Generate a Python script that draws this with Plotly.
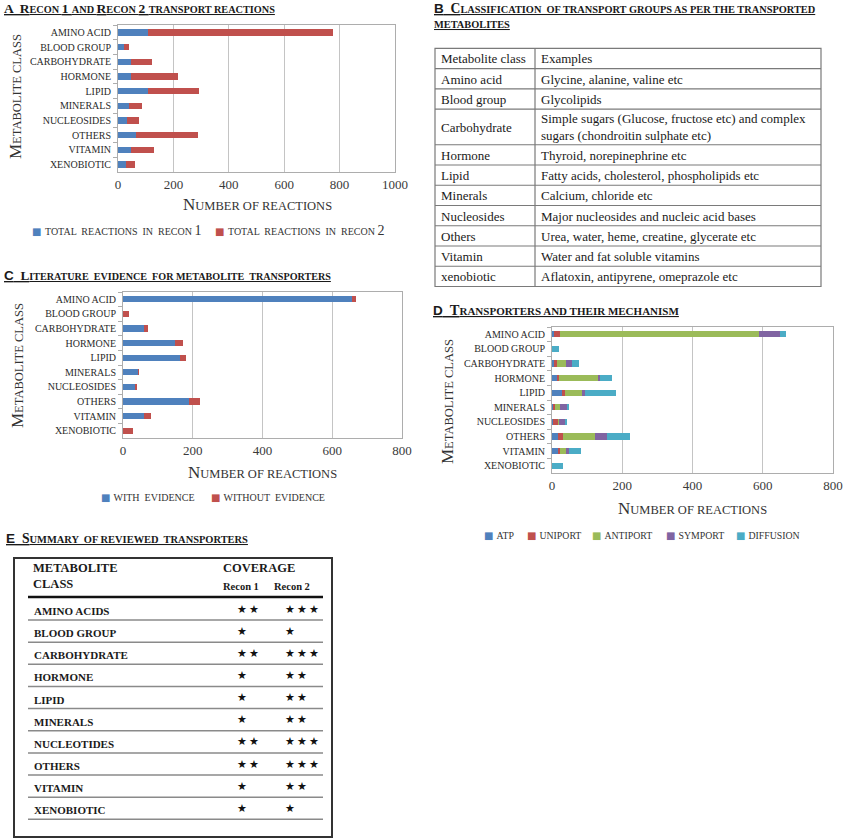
import plotly.graph_objects as go

W, H = 843, 839

# ---------------- data ----------------
categories = ["AMINO ACID", "BLOOD GROUP", "CARBOHYDRATE", "HORMONE", "LIPID",
              "MINERALS", "NUCLEOSIDES", "OTHERS", "VITAMIN", "XENOBIOTIC"]

# Panel A: Recon 1 and Recon 2 transport reactions (stacked segments)
recon1_reactions = [108, 20, 48, 46, 108, 40, 34, 64, 48, 30]
recon2_reactions = [667, 18, 76, 171, 185, 47, 43, 223, 82, 30]

# Panel C: literature evidence
with_evidence = [657, 0, 59, 150, 162, 43, 35, 188, 59, 0]
without_evidence = [10, 18, 14, 21, 19, 1, 6, 34, 21, 29]

# Panel D: transport mechanisms
atp = [5, 0, 5, 16, 31, 5, 2, 17, 16, 0]
uniport = [17, 0, 9, 5, 5, 4, 16, 13, 6, 0]
antiport = [568, 0, 25, 109, 48, 15, 1, 93, 18, 0]
symport = [58, 0, 18, 6, 9, 19, 17, 34, 9, 0]
diffusion = [18, 21, 19, 35, 90, 3, 7, 64, 33, 31]

x_ticks_a = [0, 200, 400, 600, 800, 1000]
x_ticks_cd = [0, 200, 400, 600, 800]

# Panel B: classification table
table_b_header = ["Metabolite class", "Examples"]
table_b_classes = ["Amino acid", "Blood group", "Carbohydrate", "Hormone", "Lipid",
                   "Minerals", "Nucleosides", "Others", "Vitamin", "xenobiotic"]
table_b_examples = ["Glycine, alanine, valine etc",
                    "Glycolipids",
                    "Simple sugars (Glucose, fructose etc) and complex<br>sugars (chondroitin sulphate etc)",
                    "Thyroid, norepinephrine etc",
                    "Fatty acids, cholesterol, phospholipids etc",
                    "Calcium, chloride etc",
                    "Major nucleosides and nucleic acid bases",
                    "Urea, water, heme, creatine, glycerate etc",
                    "Water and fat soluble vitamins",
                    "Aflatoxin, antipyrene, omeprazole etc"]

# Panel E: summary of reviewed transporters
summary_classes = ["AMINO ACIDS", "BLOOD GROUP", "CARBOHYDRATE", "HORMONE", "LIPID",
                   "MINERALS", "NUCLEOTIDES", "OTHERS", "VITAMIN", "XENOBIOTIC"]
coverage_recon1 = [2, 1, 2, 1, 1, 1, 2, 2, 1, 1]
coverage_recon2 = [3, 1, 3, 2, 2, 2, 3, 3, 2, 1]

BLUE, RED, GREEN, PURPLE, CYAN = "#4F81BD", "#C0504D", "#9BBB59", "#8064A2", "#4BACC6"
SERIF = "Liberation Serif"
SANS = "Liberation Sans"


def X(p):
    return p / W


def Y(p):
    return 1 - p / H


def sc(text, small):
    """small caps: lowercase letters become smaller capitals"""
    parts, buf, mode = [], "", None
    for ch in text:
        m = "s" if ch.islower() else ("b" if ch != " " else (mode or "b"))
        if mode is not None and m != mode and buf:
            parts.append((mode, buf))
            buf = ""
        mode = m
        buf += ch
    if buf:
        parts.append((mode, buf))
    out = ""
    for m, b in parts:
        if m == "s":
            out += f'<span style="font-size:{small:.2f}px">{b.upper()}</span>'
        else:
            out += b
    return out


fig = go.Figure()

# ---------- Panel A ----------
fig.add_trace(go.Bar(y=categories, x=recon1_reactions, orientation="h", name="Total reactions in Recon 1",
                     marker=dict(color=BLUE, line=dict(width=0)), xaxis="x", yaxis="y", showlegend=False))
fig.add_trace(go.Bar(y=categories, x=recon2_reactions, orientation="h", name="Total reactions in Recon 2",
                     marker=dict(color=RED, line=dict(width=0)), xaxis="x", yaxis="y", showlegend=False))

# ---------- Panel C ----------
fig.add_trace(go.Bar(y=categories, x=with_evidence, orientation="h", name="With evidence",
                     marker=dict(color=BLUE, line=dict(width=0)), xaxis="x2", yaxis="y2", showlegend=False))
fig.add_trace(go.Bar(y=categories, x=without_evidence, orientation="h", name="Without evidence",
                     marker=dict(color=RED, line=dict(width=0)), xaxis="x2", yaxis="y2", showlegend=False))

# ---------- Panel D ----------
for vals, nm, col in [(atp, "ATP", BLUE), (uniport, "Uniport", RED), (antiport, "Antiport", GREEN),
                      (symport, "Symport", PURPLE), (diffusion, "Diffusion", CYAN)]:
    fig.add_trace(go.Bar(y=categories, x=vals, orientation="h", name=nm,
                         marker=dict(color=col, line=dict(width=0)), xaxis="x3", yaxis="y3", showlegend=False))

GRID = "#C4C4C4"
LINE = "#ADADAD"


def xax(dom, anchor, rng, ticks):
    return dict(domain=dom, anchor=anchor, range=rng, tickvals=ticks, showgrid=True, gridcolor=GRID,
                gridwidth=1.4, showline=True, linecolor=LINE, linewidth=1, mirror=True, ticks="",
                zeroline=False, automargin=False,
                tickfont=dict(family=SERIF, size=13, color="#3a3a3a"), fixedrange=True)


def yax(dom, anchor):
    return dict(domain=dom, anchor=anchor, type="category", autorange="reversed", showgrid=False,
                showline=True, linecolor=LINE, linewidth=1, mirror=True, ticks="outside",
                tickson="boundaries", ticklen=4, tickcolor=LINE, ticklabelstandoff=4, automargin=False,
                tickfont=dict(family=SERIF, size=10, color="#2a2a2a"), fixedrange=True)


annotations = []
shapes = []


def ann(x, y, text, size, family=SERIF, xanchor="left", color="#1a1a1a", angle=0, align="left"):
    annotations.append(dict(x=X(x), y=Y(y), xref="paper", yref="paper", text=text, showarrow=False,
                            xanchor=xanchor, yanchor="middle", textangle=angle, align=align,
                            font=dict(family=family, size=size, color=color)))


def panel_letter(letter):
    return f'<span style="font-family:{SANS};font-size:13.5px">{letter}</span>'


def title(x, y, letter, text, f, serif_letter=False):
    lead = letter if serif_letter else panel_letter(letter)
    if letter:
        lead += "  "
    ann(x, y, "<b><u>" + lead + sc(text, 9.5 * f) + "</u></b>", 12.5 * f)


# titles
title(2, 9, "A", "Recon 1 and Recon 2 transport reactions", 1.08, serif_letter=True)
title(432, 9, "B", "Classification  of transport groups as per the transported", 1.09)
title(432, 25, "", "metabolites", 1.09)
title(2, 275, "C", "Literature  evidence  for metabolite  transporters", 1.065)
title(431, 310, "D", "Transporters and their mechanism", 1.16)
title(4, 538, "E", "Summary  of reviewed  transporters", 1.1)

# axis titles
xt = sc("Number of reactions", 12.5)
yt = sc("Metabolite class", 12.5)
ann(257, 204, xt, 17, xanchor="center", color="#333333")
ann(262, 472, xt, 17, xanchor="center", color="#333333")
ann(692, 508, xt, 17, xanchor="center", color="#333333")
ann(15, 97, yt, 17, xanchor="center", color="#333333", angle=-90)
ann(17, 366, yt, 17, xanchor="center", color="#333333", angle=-90)
ann(448, 401, yt, 17, xanchor="center", color="#333333", angle=-90)


# legends (key square + label)
def leg(x, y, color, label, size=9.5):
    txt = f'<span style="font-family:DejaVu Sans;font-size:10px;color:{color}">■</span> ' + label
    ann(x, y, txt, size, color="#333333")


leg(30, 230, BLUE, sc("total  reactions  in  recon 1", 10), 14)
leg(213, 230, RED, sc("total  reactions  in  recon 2", 10), 14)
leg(99, 497, BLUE, sc("with  evidence", 10), 12)
leg(209, 497, RED, sc("without  evidence", 10), 12)
for xx, col, lab in [(482, BLUE, "atp"), (525, RED, "uniport"), (590, GREEN, "antiport"),
                     (664, PURPLE, "symport"), (734, CYAN, "diffusion")]:
    leg(xx, 535, col, sc(lab, 9.8), 12)

# ---------- Table B ----------
TB_L, TB_M, TB_R, TB_T = 435, 535, 821, 48.3
row_h = 20.25
heights = [row_h] + [35.7 if "<br>" in e else row_h for e in table_b_examples]
ys = [TB_T]
for h in heights:
    ys.append(ys[-1] + h)
TCOL = "#7a7a7a"
shapes.append(dict(type="rect", xref="paper", yref="paper", x0=X(TB_L), x1=X(TB_R), y0=Y(ys[0]), y1=Y(ys[-1]),
                   line=dict(color=TCOL, width=1.2)))
shapes.append(dict(type="line", xref="paper", yref="paper", x0=X(TB_M), x1=X(TB_M), y0=Y(ys[0]), y1=Y(ys[-1]),
                   line=dict(color=TCOL, width=1.2)))
for yy in ys[1:-1]:
    shapes.append(dict(type="line", xref="paper", yref="paper", x0=X(TB_L), x1=X(TB_R), y0=Y(yy), y1=Y(yy),
                       line=dict(color=TCOL, width=1.2)))
rows_b = [table_b_header] + list(zip(table_b_classes, table_b_examples))
for i, (c1, c2) in enumerate(rows_b):
    cy = (ys[i] + ys[i + 1]) / 2 + 0.5
    ann(TB_L + 4, cy, c1, 13, color="#1a1a1a")
    ann(TB_M + 4, cy, c2, 13, color="#1a1a1a")

# ---------- Table E ----------
shapes.append(dict(type="rect", xref="paper", yref="paper", x0=X(14), x1=X(332), y0=Y(558), y1=Y(837),
                   line=dict(color="#333333", width=2)))
shapes.append(dict(type="line", xref="paper", yref="paper", x0=X(28), x1=X(323), y0=Y(597), y1=Y(597),
                   line=dict(color="#111111", width=2.5)))
ann(31, 568, "<b>METABOLITE</b>", 12.5)
ann(31, 584, "<b>CLASS</b>", 12.5)
ann(221, 568, "<b>COVERAGE</b>", 12.5)
ann(221, 586, "<b>Recon 1</b>", 10.5)
ann(272, 586, "<b>Recon 2</b>", 10.5)
ROW0, RSTEP = 620, 22.15
for i, name in enumerate(summary_classes):
    ly = ROW0 + RSTEP * i
    shapes.append(dict(type="line", xref="paper", yref="paper", x0=X(28), x1=X(323), y0=Y(ly), y1=Y(ly),
                       line=dict(color="#8a8a8a", width=1.5)))
    ann(32, ly - 9, f"<b>{name}</b>", 11)
    ann(235, ly - 11, "\u2009".join(["★"] * coverage_recon1[i]), 11, family="DejaVu Sans", color="#111111")
    ann(283, ly - 11, "\u2009".join(["★"] * coverage_recon2[i]), 11, family="DejaVu Sans", color="#111111")

fig.update_layout(
    width=W, height=H, margin=dict(l=0, r=0, t=0, b=0, pad=0, autoexpand=False),
    paper_bgcolor="white", plot_bgcolor="white",
    barmode="stack", bargap=0.57, showlegend=False,
    font=dict(family=SERIF, size=12, color="#222222"),
    xaxis=xax([X(118), X(395)], "y", [0, 1000], x_ticks_a),
    yaxis=yax([Y(172), Y(25)], "x"),
    xaxis2=xax([X(123), X(402)], "y2", [0, 800], x_ticks_cd),
    yaxis2=yax([Y(438), Y(292)], "x2"),
    xaxis3=xax([X(552), X(833)], "y3", [0, 800], x_ticks_cd),
    yaxis3=yax([Y(473), Y(327)], "x3"),
    annotations=annotations, shapes=shapes,
)

# remove the browser's default 8px body margin so the figure sits at the page origin
fig.write_html("out.html", config={"displayModeBar": False, "staticPlot": False},
               post_script="document.body.style.margin='0px';")
